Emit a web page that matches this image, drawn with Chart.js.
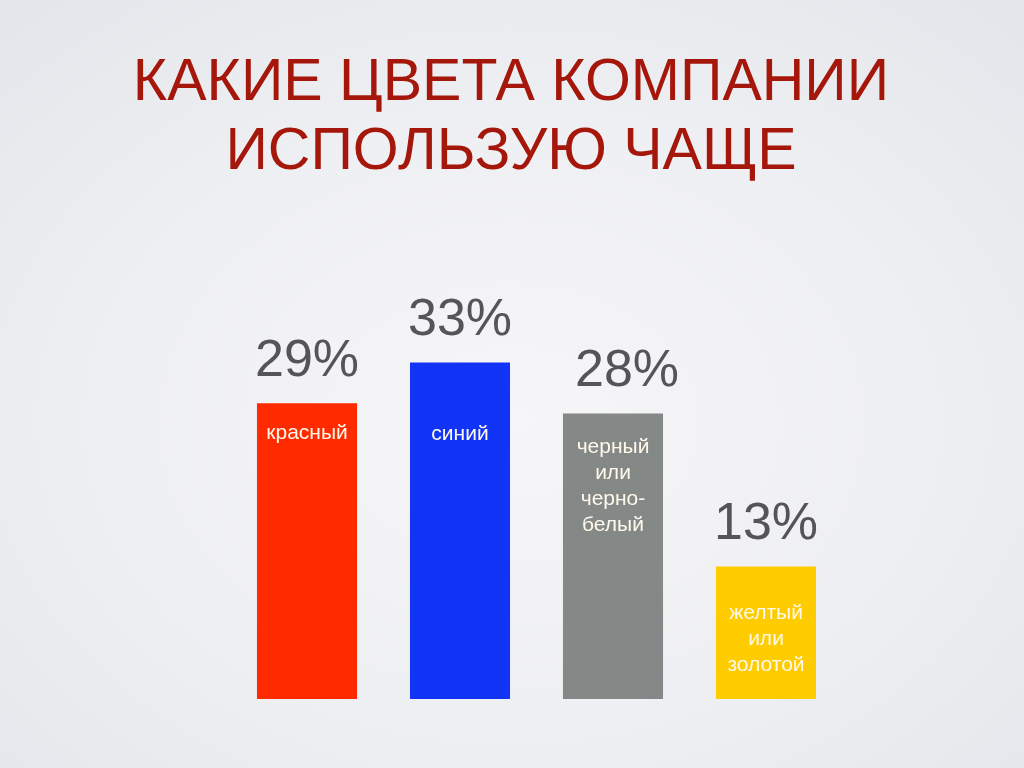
<!DOCTYPE html>
<html>
<head>
<meta charset="utf-8">
<script src="https://cdn.jsdelivr.net/npm/chart.js@4/dist/chart.umd.min.js"></script>
<style>
  html, body { margin: 0; padding: 0; }
  body {
    width: 1024px; height: 768px; overflow: hidden;
    background: radial-gradient(ellipse 75% 75% at 50% 55%, #f6f6f8 0%, #eeeff2 55%, #e4e5ea 100%);
  }
  #c { position: absolute; left: 0; top: 0; }
</style>
</head>
<body>
<canvas id="c" width="1024" height="768"></canvas>
<script>
// ---- data ----
const titleLines = ['КАКИЕ ЦВЕТА КОМПАНИИ', 'ИСПОЛЬЗУЮ ЧАЩЕ'];
const categories = ['красный', 'синий', 'черный или черно-белый', 'желтый или золотой'];
const categoryLines = [['красный'], ['синий'], ['черный', 'или', 'черно-', 'белый'], ['желтый', 'или', 'золотой']];
const values = [29, 33, 28, 13];
const valueLabels = ['29%', '33%', '28%', '13%'];
const barColors = ['#ff2a00', '#1234f7', '#848886', '#ffcc00'];

// ---- styles / offsets ----
const titleStyle = { font: '59px "Liberation Sans", Arial, sans-serif', color: '#a5170b', x: 511, baselines: [100, 169] };
const labelStyle = {
  pctOffsetX: [0, 0, 14, 0],
  pctGap: 27,
  innerFirstLine: [30, 72, 34, 47],
  innerLineHeight: 26
};

const slideTitle = {
  id: 'slideTitle',
  afterDraw(chart) {
    const ctx = chart.ctx;
    ctx.save();
    ctx.font = titleStyle.font;
    ctx.fillStyle = titleStyle.color;
    ctx.textAlign = 'center';
    ctx.textBaseline = 'alphabetic';
    titleLines.forEach((t, i) => ctx.fillText(t, titleStyle.x, titleStyle.baselines[i]));
    ctx.restore();
  }
};

const barLabels = {
  id: 'barLabels',
  afterDatasetsDraw(chart) {
    const ctx = chart.ctx;
    const meta = chart.getDatasetMeta(0);
    ctx.save();
    meta.data.forEach((bar, i) => {
      ctx.font = '52px "Liberation Sans", Arial, sans-serif';
      ctx.fillStyle = '#555557';
      ctx.textAlign = 'center';
      ctx.textBaseline = 'alphabetic';
      ctx.fillText(valueLabels[i], bar.x + labelStyle.pctOffsetX[i], bar.y - labelStyle.pctGap);
      ctx.font = '21px "Liberation Sans", Arial, sans-serif';
      ctx.fillStyle = '#fff9ec';
      ctx.textBaseline = 'middle';
      categoryLines[i].forEach((line, j) => {
        ctx.fillText(line, bar.x, bar.y + labelStyle.innerFirstLine[i] + j * labelStyle.innerLineHeight);
      });
    });
    ctx.restore();
  }
};

new Chart(document.getElementById('c'), {
  type: 'bar',
  data: {
    labels: categories,
    datasets: [{
      data: values,
      backgroundColor: barColors,
      borderWidth: 0,
      barPercentage: 0.654,
      categoryPercentage: 1.0
    }]
  },
  options: {
    responsive: false,
    animation: false,
    layout: { padding: { left: 230.5, right: 181.5, top: 291, bottom: 69 } },
    plugins: {
      legend: { display: false },
      tooltip: { enabled: false },
      title: { display: false }
    },
    scales: {
      x: { display: false, grid: { display: false } },
      y: { display: false, min: 0, max: 40, grid: { display: false } }
    }
  },
  plugins: [slideTitle, barLabels]
});
</script>
</body>
</html>
